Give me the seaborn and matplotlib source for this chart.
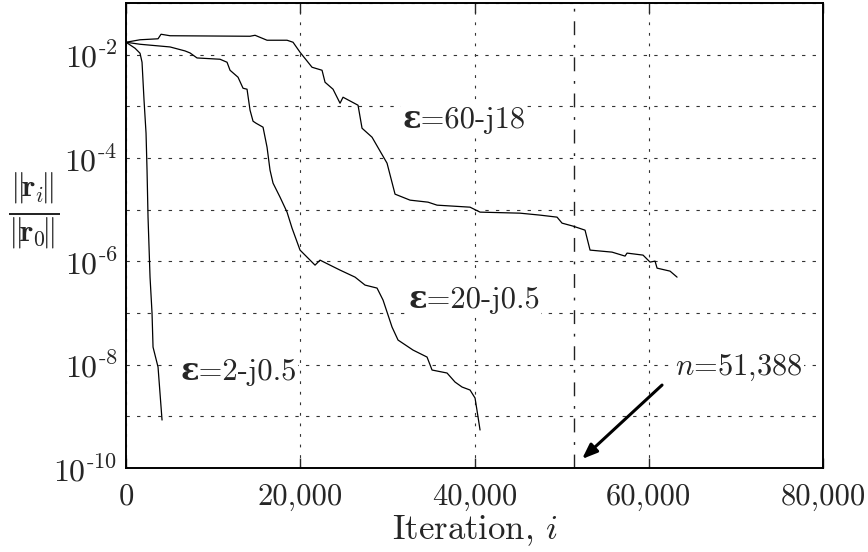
import numpy as np
import pandas as pd
import matplotlib
matplotlib.use("Agg")
import matplotlib.pyplot as plt
import seaborn as sns

# ---- data (iteration, log10 of relative residual) ----
iter_60 = [0, 1607, 3673, 4017, 5050, 14233, 14807, 16184, 18480, 19168, 19972, 21349,
           22497, 22841, 23759, 24563, 24907, 26629, 27088, 28236, 29958, 30876, 32598,
           34664, 35697, 39484, 40632, 45223, 47519, 49470, 50044, 51307, 52684, 53258,
           55783, 57275, 57505, 59341, 60145, 60719, 60949, 62441, 63245]
logr_60 = [-1.760, -1.712, -1.693, -1.605, -1.634, -1.644, -1.625, -1.721, -1.721, -1.760,
           -1.954, -2.244, -2.302, -2.534, -2.669, -2.940, -2.824, -2.979, -3.424, -3.598,
           -4.101, -4.700, -4.816, -4.855, -4.913, -4.952, -5.048, -5.068, -5.106, -5.145,
           -5.261, -5.319, -5.397, -5.783, -5.822, -5.899, -5.841, -5.880, -6.015, -5.996,
           -6.132, -6.190, -6.306]

iter_20 = [0, 1607, 5050, 6772, 7346, 8149, 10789, 11593, 11937, 12855, 13429, 13888,
           14233, 14577, 14921, 15725, 16184, 16528, 16873, 17676, 18480, 19054, 19972,
           20890, 21693, 22267, 23415, 24563, 26285, 27433, 28810, 29499, 30532, 31221,
           32942, 34549, 35123, 36845, 37763, 38566, 39484, 40058, 40403, 40632]
logr_20 = [-1.760, -1.799, -1.851, -1.928, -1.967, -2.064, -2.089, -2.147, -2.302, -2.437,
           -2.650, -2.669, -3.075, -3.288, -3.327, -3.404, -3.791, -4.236, -4.487, -4.758,
           -5.048, -5.358, -5.783, -5.938, -6.074, -5.977, -6.074, -6.170, -6.306, -6.460,
           -6.518, -6.750, -7.273, -7.524, -7.718, -7.853, -8.104, -8.162, -8.337, -8.433,
           -8.491, -8.646, -9.014, -9.265]

iter_2 = [0, 1033, 1607, 1836, 2066, 2296, 2410, 2525, 2755, 2984, 3099, 3673, 4132]
logr_2 = [-1.760, -1.876, -1.973, -2.147, -2.882, -3.520, -4.236, -5.145, -6.306, -7.002,
          -7.660, -8.046, -9.072]

case_labels = ["ε=60-j18", "ε=20-j0.5", "ε=2-j0.5"]
n_unknowns = 51388
x_ticks = [0, 20000, 40000, 60000, 80000]
x_ticklabels = ["0", "20,000", "40,000", "60,000", "80,000"]
y_exponents = [-10, -8, -6, -4, -2]

# ---- styling ----
sns.set_style("white")
plt.rcParams["mathtext.fontset"] = "cm"
plt.rcParams["font.family"] = ["cmr10", "DejaVu Serif"]
plt.rcParams["axes.unicode_minus"] = False

frames = []
for lab, xs, ls in zip(case_labels, [iter_60, iter_20, iter_2], [logr_60, logr_20, logr_2]):
    frames.append(pd.DataFrame({"iteration": xs,
                                "residual": 10.0 ** np.array(ls),
                                "case": lab}))
df = pd.concat(frames, ignore_index=True)

fig = plt.figure(figsize=(8.68, 5.52), dpi=100)
ax = fig.add_axes([0.1452, 0.1522, 0.803, 0.8424])

sns.lineplot(data=df, x="iteration", y="residual", hue="case", units="case",
             palette=["black"] * 3, estimator=None, sort=False, lw=0.9,
             legend=False, ax=ax, zorder=3)

ax.set_yscale("log")
ax.set_xlim(0, 80000)
ax.set_ylim(1e-10, 1e-1)

# ticks
decades = [10.0 ** e for e in range(-10, 0)]
ax.set_yticks(decades)
ax.set_yticklabels([(r"$10^{\text{-%d}}$" % (-e)) if e in y_exponents else "" for e in range(-10, 0)])
ax.yaxis.set_minor_locator(matplotlib.ticker.NullLocator())
ax.set_xticks(x_ticks)
ax.set_xticklabels(x_ticklabels)
ax.tick_params(axis="y", length=0, pad=6, labelsize=23)
ax.tick_params(axis="x", direction="in", length=7, width=1, pad=11, labelsize=22,
               top=True, bottom=True)

# grid
ax.grid(True, axis="y", which="major", color="#333333", lw=0.8, ls=(0, (3, 6.5)), zorder=1)
ax.grid(True, axis="x", which="major", color="#333333", lw=0.8, ls=(0, (2.5, 7)), zorder=1)

# n marker line
ax.axvline(n_unknowns, color="#222222", lw=1.0, ls=(0, (10, 7, 2, 7)), zorder=2)

for sp in ax.spines.values():
    sp.set_linewidth(1.4)
    sp.set_color("black")

ax.set_xlabel(r"Iteration, $i$", fontsize=25, labelpad=2)
ax.set_ylabel(r"$\frac{\Vert\!\mathbf{r}_{i}\!\Vert}{\Vert\!\mathbf{r}_{0}\!\Vert}$",
              rotation=0, fontsize=32, ha="center", va="center")
ax.yaxis.set_label_coords(-0.133, 0.551)

box = dict(facecolor="white", edgecolor="none", pad=1)
txt_kw = dict(fontsize=22, ha="left", va="center", bbox=box, zorder=4,
              family=["cmr10", "DejaVu Serif"], weight="bold")
ax.text(31680, 10 ** -3.269, case_labels[0], **txt_kw)
ax.text(32368, 10 ** -6.750, case_labels[1], **txt_kw)
ax.text(6198, 10 ** -8.143, case_labels[2], **txt_kw)
ax.text(63014, 10 ** -8.066, r"$n$=51,388", fontsize=22, ha="left", va="center",
        bbox=box, zorder=4)

ax.annotate("", xy=(52340, 10 ** -9.826), xytext=(61522, 10 ** -8.395),
            arrowprops=dict(arrowstyle="-|>,head_length=0.9,head_width=0.35",
                            color="black", lw=2.2, shrinkA=0, shrinkB=0),
            zorder=5)

fig.savefig("out.png", dpi=100)
